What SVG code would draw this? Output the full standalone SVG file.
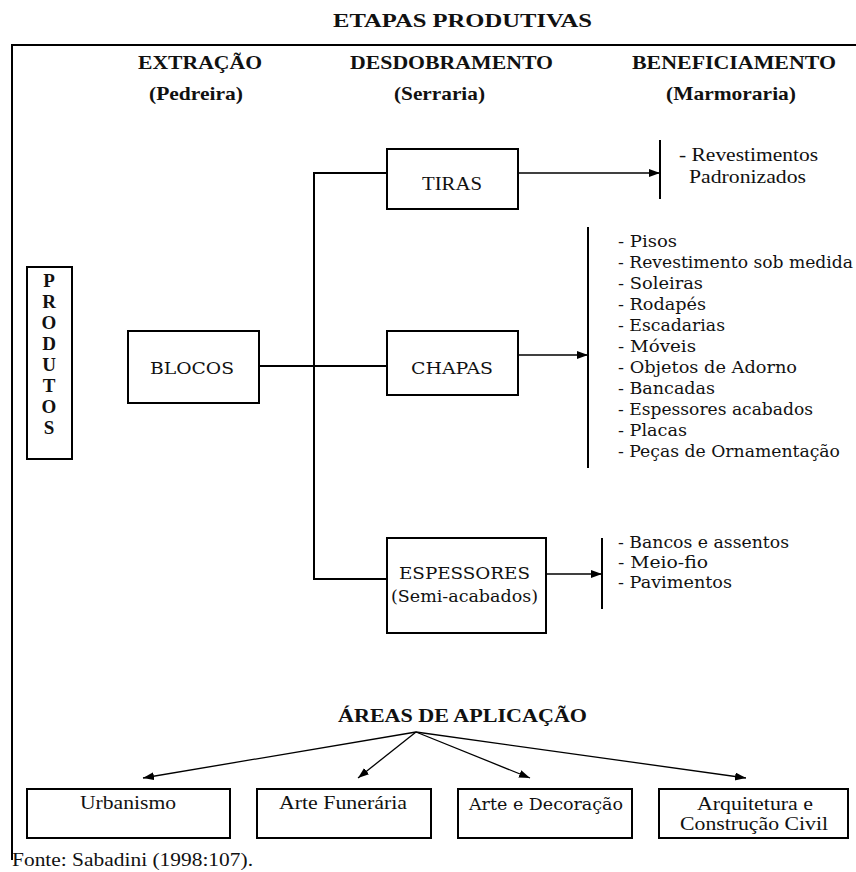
<svg xmlns="http://www.w3.org/2000/svg" width="856" height="872" viewBox="0 0 856 872">
<style>
  .box { fill: #fff; stroke: #000; stroke-width: 2; }
  .thin { stroke: #000; stroke-width: 1.3; fill: none; }
  .thick { stroke: #000; stroke-width: 2; fill: none; }
  .hb { font-family: "Liberation Serif", serif; font-weight: bold; font-size: 19px; fill: #111; }
  .tm { font-family: "Liberation Serif", serif; font-size: 18px; fill: #111; }
  .dj { font-family: "DejaVu Serif", "Liberation Serif", serif; font-size: 16px; fill: #111; }
</style>
<defs>
  <marker id="ah" markerUnits="userSpaceOnUse" markerWidth="12" markerHeight="10" refX="11" refY="4" orient="auto">
    <path d="M0,0 L11,4 L0,8 Z" fill="#000"/>
  </marker>
</defs>
<rect width="856" height="872" fill="#fff"/>

<g id="title">
  <text class="hb" x="333" y="27" font-size="21" textLength="259" lengthAdjust="spacingAndGlyphs">ETAPAS PRODUTIVAS</text>
</g>
<g id="frame">
  <path class="thick" d="M12,860 V45 H856"/>
</g>
<g id="headers">
  <text class="hb" x="138" y="69" textLength="124" lengthAdjust="spacingAndGlyphs">EXTRAÇÃO</text>
  <text class="hb" x="350" y="69" textLength="203" lengthAdjust="spacingAndGlyphs">DESDOBRAMENTO</text>
  <text class="hb" x="632" y="69" textLength="204" lengthAdjust="spacingAndGlyphs">BENEFICIAMENTO</text>
  <text class="hb" x="149" y="100" textLength="94" lengthAdjust="spacingAndGlyphs">(Pedreira)</text>
  <text class="hb" x="394" y="100" textLength="91" lengthAdjust="spacingAndGlyphs">(Serraria)</text>
  <text class="hb" x="666" y="100" textLength="130" lengthAdjust="spacingAndGlyphs">(Marmoraria)</text>
</g>

<g id="connectors">
  <path class="thick" d="M387,173 H314 V579 H387"/>
  <path class="thick" d="M259,366 H387"/>
  <path class="thin" d="M518,173 H660" marker-end="url(#ah)"/>
  <path class="thin" d="M518,355 H588" marker-end="url(#ah)"/>
  <path class="thin" d="M528,574 H602" marker-end="url(#ah)"/>
  <path class="thick" d="M660,140 V199"/>
  <path class="thick" d="M588,227 V468"/>
  <path class="thick" d="M602,538 V609"/>
  <path class="thin" d="M416,732 L143,778" marker-end="url(#ah)"/>
  <path class="thin" d="M416,732 L358,778" marker-end="url(#ah)"/>
  <path class="thin" d="M416,732 L530,778" marker-end="url(#ah)"/>
  <path class="thin" d="M416,732 L746,778" marker-end="url(#ah)"/>
</g>

<g id="produtos">
  <rect class="box" x="27" y="267" width="45" height="192"/>
  <g class="hb" font-size="18" text-anchor="middle">
    <text x="49" y="287">P</text>
    <text x="49" y="308">R</text>
    <text x="49" y="329">O</text>
    <text x="49" y="350">D</text>
    <text x="49" y="371">U</text>
    <text x="49" y="392">T</text>
    <text x="49" y="413">O</text>
    <text x="49" y="434">S</text>
  </g>
</g>

<g id="blocos">
  <rect class="box" x="128" y="331" width="131" height="72"/>
  <text class="dj" x="150" y="374" textLength="84" lengthAdjust="spacingAndGlyphs">BLOCOS</text>
</g>

<g id="tiras">
  <rect class="box" x="387" y="149" width="131" height="60"/>
  <text class="tm" x="422" y="190" textLength="60" lengthAdjust="spacingAndGlyphs">TIRAS</text>
</g>

<g id="chapas">
  <rect class="box" x="387" y="331" width="131" height="64"/>
  <text class="dj" x="411" y="374" textLength="82" lengthAdjust="spacingAndGlyphs">CHAPAS</text>
</g>

<g id="espessores">
  <rect class="box" x="387" y="538" width="159" height="95"/>
  <text class="dj" x="399" y="579" textLength="131" lengthAdjust="spacingAndGlyphs">ESPESSORES</text>
  <text class="dj" x="391" y="602" textLength="147" lengthAdjust="spacingAndGlyphs">(Semi-acabados)</text>
</g>

<g id="tiras-produtos">
  <text class="tm" x="679" y="161" textLength="139" lengthAdjust="spacingAndGlyphs">- Revestimentos</text>
  <text class="tm" x="689" y="183" textLength="117" lengthAdjust="spacingAndGlyphs">Padronizados</text>
</g>

<g id="chapas-produtos" class="dj">
  <text x="618" y="247" textLength="59" lengthAdjust="spacingAndGlyphs">- Pisos</text>
  <text x="618" y="268" textLength="235" lengthAdjust="spacingAndGlyphs">- Revestimento sob medida</text>
  <text x="618" y="289" textLength="85" lengthAdjust="spacingAndGlyphs">- Soleiras</text>
  <text x="618" y="310" textLength="88" lengthAdjust="spacingAndGlyphs">- Rodapés</text>
  <text x="618" y="331" textLength="107" lengthAdjust="spacingAndGlyphs">- Escadarias</text>
  <text x="618" y="352" textLength="78" lengthAdjust="spacingAndGlyphs">- Móveis</text>
  <text x="618" y="373" textLength="179" lengthAdjust="spacingAndGlyphs">- Objetos de Adorno</text>
  <text x="618" y="394" textLength="97" lengthAdjust="spacingAndGlyphs">- Bancadas</text>
  <text x="618" y="415" textLength="195" lengthAdjust="spacingAndGlyphs">- Espessores acabados</text>
  <text x="618" y="436" textLength="69" lengthAdjust="spacingAndGlyphs">- Placas</text>
  <text x="618" y="457" textLength="222" lengthAdjust="spacingAndGlyphs">- Peças de Ornamentação</text>
</g>

<g id="espessores-produtos" class="dj">
  <text x="618" y="548" textLength="171" lengthAdjust="spacingAndGlyphs">- Bancos e assentos</text>
  <text x="618" y="568" textLength="90" lengthAdjust="spacingAndGlyphs">- Meio-fio</text>
  <text x="618" y="588" textLength="114" lengthAdjust="spacingAndGlyphs">- Pavimentos</text>
</g>

<g id="areas">
  <text class="hb" x="338" y="722" font-size="18" textLength="249" lengthAdjust="spacingAndGlyphs">ÁREAS DE APLICAÇÃO</text>
</g>

<g id="urbanismo">
  <rect class="box" x="27" y="789" width="203" height="49"/>
  <text class="tm" x="80" y="809" textLength="96" lengthAdjust="spacingAndGlyphs">Urbanismo</text>
</g>
<g id="arte-funeraria">
  <rect class="box" x="257" y="789" width="174" height="49"/>
  <text class="tm" x="279" y="809" textLength="128" lengthAdjust="spacingAndGlyphs">Arte Funerária</text>
</g>
<g id="arte-decoracao">
  <rect class="box" x="458" y="789" width="174" height="49"/>
  <text class="dj" x="469" y="810" textLength="154" lengthAdjust="spacingAndGlyphs">Arte e Decoração</text>
</g>
<g id="arquitetura">
  <rect class="box" x="659" y="789" width="189" height="49"/>
  <text class="tm" x="697" y="810" textLength="116" lengthAdjust="spacingAndGlyphs">Arquitetura e</text>
  <text class="tm" x="680" y="830" textLength="148" lengthAdjust="spacingAndGlyphs">Construção Civil</text>
</g>

<g id="fonte">
  <text class="tm" x="12" y="866" font-size="16" textLength="241" lengthAdjust="spacingAndGlyphs">Fonte: Sabadini (1998:107).</text>
</g>
</svg>
